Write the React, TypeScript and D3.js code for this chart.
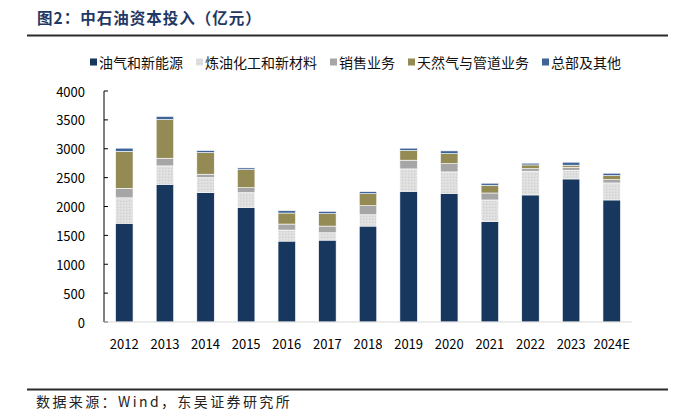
import React from 'react'
import * as d3 from 'd3'

const width = 683
const height = 412

const years = ['2012', '2013', '2014', '2015', '2016', '2017', '2018', '2019', '2020', '2021', '2022', '2023', '2024E']
const seriesNames = ['油气和新能源', '炼油化工和新材料', '销售业务', '天然气与管道业务', '总部及其他']
const upstream = [1710, 2385, 2240, 1986, 1401, 1418, 1661, 2264, 2229, 1743, 2200, 2477, 2113]
const refining = [440, 318, 260, 254, 191, 127, 196, 387, 370, 370, 411, 151, 295]
const sales = [165, 133, 59, 86, 104, 116, 157, 151, 144, 121, 45, 52, 57]
const gasPipe = [640, 671, 375, 313, 191, 214, 208, 167, 173, 134, 64, 35, 70]
const hqOther = [55, 52, 35, 29, 40, 41, 35, 41, 47, 35, 30, 52, 41]
const yTicks = [0, 500, 1000, 1500, 2000, 2500, 3000, 3500, 4000]

const colors = ['#17375E', 'url(#speckle)', '#A6A6A6', '#948A54', '#3E6498']
const fontSans = '"Microsoft YaHei", "Noto Sans CJK SC", "DejaVu Sans", sans-serif'

const margin = { left: 104, right: 51, top: 91, bottom: 90 }

export default function App() {
  const seriesValues = [upstream, refining, sales, gasPipe, hqOther]
  const rows = years.map((y, i) => {
    const row: Record<string, any> = { year: y }
    seriesNames.forEach((s, k) => (row[s] = seriesValues[k][i]))
    return row
  })
  const stacked = d3.stack<any>().keys(seriesNames)(rows)

  const x = d3
    .scaleBand<string>()
    .domain(years)
    .range([margin.left, width - margin.right])
    .paddingInner(0.57)
    .paddingOuter(0.285)
  const y = d3
    .scaleLinear()
    .domain([0, 4000])
    .range([height - margin.bottom, margin.top])

  // legend layout: square, text (14px per glyph), gap
  let lx = 90
  const legendItems = seriesNames.map((name, i) => {
    const item = { name, x: lx, color: colors[i] }
    lx += 9 + name.length * 14 + 13
    return item
  })

  return (
    <svg
      width={width}
      height={height}
      style={{ position: 'absolute', left: 0, top: 0, background: '#fff' }}
    >
      <defs>
        <pattern id="speckle" width="3" height="3" patternUnits="userSpaceOnUse">
          <rect width="3" height="3" fill="#DEDEDE" />
          <rect x="0" y="0" width="1" height="1" fill="#D0D0D0" />
          <rect x="2" y="1" width="1" height="1" fill="#E8E8E8" />
        </pattern>
      </defs>

      {/* title */}
      <text
        x={37}
        y={24}
        fontSize={15.5}
        fontWeight="bold"
        fill="#1F3864"
        letterSpacing={1}
        fontFamily='"Noto Sans CJK SC", sans-serif'
      >
        图2：中石油资本投入（亿元）
      </text>
      <line x1={27} x2={668} y1={35.5} y2={35.5} stroke="#2b2b2b" strokeWidth={2} />

      {/* legend */}
      {legendItems.map((d) => (
        <g key={d.name}>
          <rect x={d.x} y={58.5} width={7} height={7} fill={d.color} />
          <text x={d.x + 9} y={62} dominantBaseline="central" fontSize={14} fill="#111" fontFamily={fontSans}>
            {d.name}
          </text>
        </g>
      ))}

      {/* bars */}
      {stacked.map((layer, k) => (
        <g key={layer.key} fill={colors[k]}>
          {layer.map((d, i) => (
            <rect
              key={years[i]}
              x={x(years[i])}
              y={y(d[1])}
              width={x.bandwidth()}
              height={Math.max(0, y(d[0]) - y(d[1]))}
              stroke="#ffffff"
              strokeWidth={0.6}
            />
          ))}
        </g>
      ))}

      {/* y axis */}
      <line x1={margin.left} x2={margin.left} y1={y(4000)} y2={y(0)} stroke="#000" strokeWidth={1} />
      {yTicks.map((t) => (
        <g key={t}>
          <line x1={margin.left} x2={margin.left + 4} y1={y(t)} y2={y(t)} stroke="#000" strokeWidth={1} />
          <text
            x={85}
            y={y(t)}
            textAnchor="end"
            dominantBaseline="central"
            fontSize={13}
            fill="#000"
            fontFamily={fontSans}
          >
            {t}
          </text>
        </g>
      ))}

      {/* x axis */}
      <line x1={margin.left} x2={width - margin.right} y1={y(0)} y2={y(0)} stroke="#D9D9D9" strokeWidth={1} />
      {years.map((yr) => (
        <text
          key={yr}
          x={(x(yr) ?? 0) + x.bandwidth() / 2}
          y={343}
          textAnchor="middle"
          dominantBaseline="central"
          fontSize={13}
          fill="#000"
          fontFamily={fontSans}
        >
          {yr}
        </text>
      ))}

      {/* footer */}
      <line x1={27} x2={668} y1={389.5} y2={389.5} stroke="#2b2b2b" strokeWidth={2} />
      <text
        x={36}
        y={407}
        fontSize={14}
        letterSpacing={2.4}
        fill="#222"
        fontFamily='"Noto Sans CJK SC", serif'
      >
        数据来源：Wind，东吴证券研究所
      </text>
    </svg>
  )
}
